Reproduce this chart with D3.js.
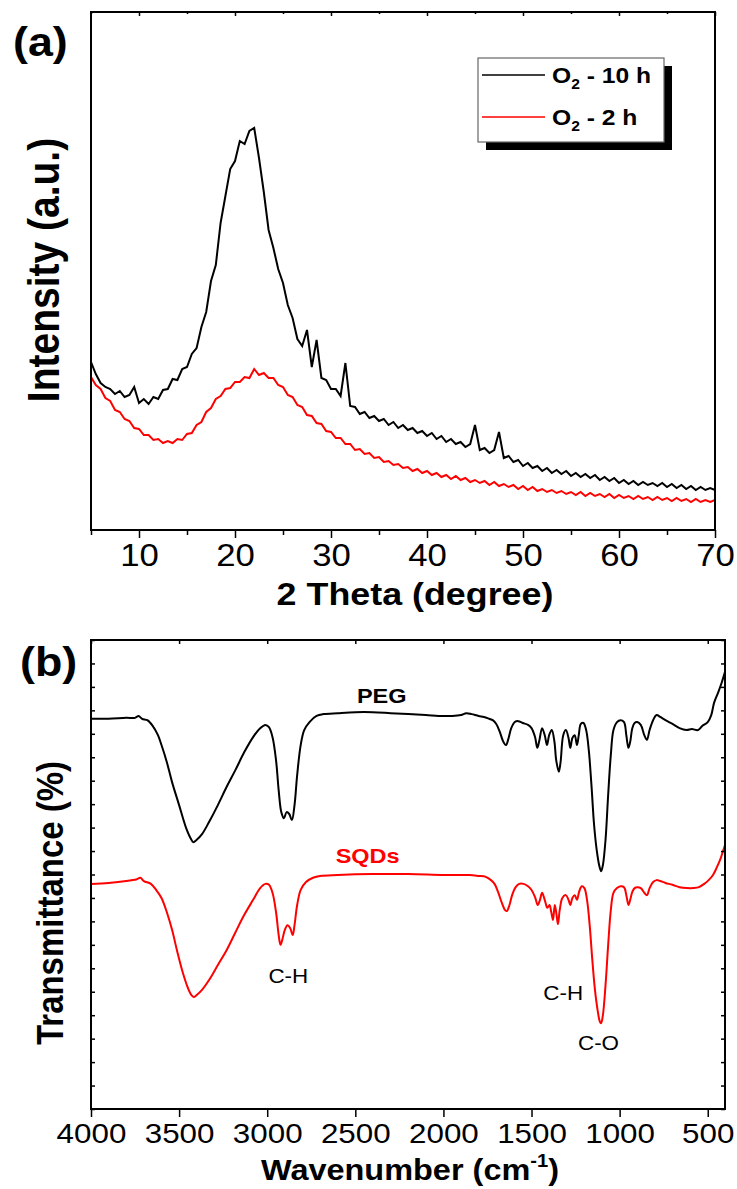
<!DOCTYPE html>
<html><head><meta charset="utf-8">
<script src="https://cdn.jsdelivr.net/npm/d3@7"></script>
<style>body{margin:0;background:#fff} svg{display:block} text{font-family:"Liberation Sans",Arial,Helvetica,sans-serif}</style>
</head><body><svg id="c" width="737" height="1189"></svg>
<script>
// ---------- Panel (a): XRD ----------
const twoTheta = [5,5.5,6,6.5,7,7.5,8,8.5,9,9.5,10,10.5,11,11.5,12,12.5,13,13.5,14,14.5,15,15.5,16,16.5,17,17.5,18,18.5,19,19.5,20,20.5,21,21.5,22,22.5,23,23.5,24,24.5,25,25.5,26,26.5,27,27.5,28,28.5,29,29.5,30,30.5,31,31.5,32,32.5,33,33.5,34,34.5,35,35.5,36,36.5,37,37.5,38,38.5,39,39.5,40,40.5,41,41.5,42,42.5,43,43.5,44,44.5,45,45.5,46,46.5,47,47.5,48,48.5,49,49.5,50,50.5,51,51.5,52,52.5,53,53.5,54,54.5,55,55.5,56,56.5,57,57.5,58,58.5,59,59.5,60,60.5,61,61.5,62,62.5,63,63.5,64,64.5,65,65.5,66,66.5,67,67.5,68,68.5,69,69.5,70];
const intensity10h = [168,156,147,143,141,136,139,133,135,143,
127,131,126,133,131,140,141,151,150,161,
163,176,182,203,218,249,265,307,334,361,
369,389,386,399,402,372,338,300,282,261,
247,225,212,191,184,200,163,190,152,150,
141,141,134,167,124,123,116,118,112,114,
109,111,105,108,102,105,100,102,97,99,
94,97,91,94,88,91,86,88,83,86,
105,80,82,77,80,98,72,74,68,70,
64,67,62,64,59,62,57,60,56,59,
54,57,53,56,52,55,50,53,49,52,
47,50,46,49,45,48,45,47,44,47,
43,46,42,45,41,44,40,43,40,42,
40];
const intensity2h = [153,145,141,132,129,120,118,111,109,102,
101,95,95,90,91,87,89,87,91,90,
96,97,105,108,118,122,131,134,141,142,
148,148,153,152,161,155,157,152,152,145,
143,135,133,125,123,115,114,107,106,99,
98,92,92,86,86,80,81,76,77,72,
73,68,69,65,66,62,63,59,61,57,
59,55,57,53,55,51,54,50,52,48,
50,47,49,45,48,44,46,43,45,41,
44,40,43,39,41,38,40,37,39,36,
38,35,38,34,37,34,36,33,36,32,
35,32,34,31,34,31,33,30,33,30,
32,29,32,29,31,28,31,28,30,28,
30];
const xrdTicks = [10,20,30,40,50,60,70];
const xrdMinorTicks = [5,15,25,35,45,55,65];
const xrdSeries = [
  {name:"10 h", color:"#000000", values:intensity10h},
  {name:"2 h",  color:"#ff0000", values:intensity2h}
];

// ---------- Panel (b): FTIR ----------
const wavenumberPEG = [4000,3900,3800,3750,3730,3710,3680,3650,3620,3600,3570,3540,3500,3460,3430,3420,3400,3370,3330,3280,3230,3180,3130,3080,3040,3010,2990,2970,2950,2935,2920,2905,2890,2875,2860,2845,2830,2810,2790,2760,2720,2680,2600,2500,2400,2300,2200,2100,2000,1950,1900,1870,1840,1800,1770,1740,1720,1700,1680,1660,1645,1630,1615,1595,1575,1550,1520,1500,1480,1467,1455,1440,1425,1412,1400,1385,1370,1360,1345,1335,1320,1305,1290,1280,1268,1255,1242,1232,1220,1205,1190,1175,1160,1145,1130,1115,1105,1095,1080,1065,1050,1035,1015,995,975,962,950,940,928,915,900,880,860,845,830,810,790,770,740,700,660,620,590,555,530,500,480,464,440,420,402];
const transPEG = [83.2,83.2,83.4,83.4,83.8,83.2,82.9,81.7,79.7,77.6,74.0,69.7,64.8,59.9,57.4,56.9,57.4,58.6,61.2,64.8,68.7,72.3,76.1,79.3,81.2,81.9,81.4,79.3,74.4,68.0,63.3,62.0,63.3,62.9,61.6,64.8,71.2,77.6,80.8,82.5,83.8,84.2,84.4,84.6,84.6,84.4,84.2,84.0,83.8,83.8,84.0,84.4,84.2,83.8,83.6,83.2,82.9,82.1,80.4,78.3,77.6,79.1,81.2,82.5,82.7,82.3,81.9,81.2,79.3,77.0,78.7,81.2,79.7,77.6,79.7,80.8,78.3,74.4,71.9,74.0,79.7,80.8,79.1,77.0,79.1,79.7,77.6,79.7,82.1,82.3,80.8,76.5,69.1,60.6,55.2,51.8,50.7,52.0,57.4,67.0,75.5,80.8,82.5,82.9,82.5,79.7,77.0,78.3,81.2,82.3,82.5,81.9,79.7,78.7,80.8,82.9,84.0,83.6,82.9,82.1,81.2,80.8,81.0,80.8,81.7,82.5,84.0,86.6,88.9,91.0,93.2];
const wavenumberSQD = [4000,3900,3800,3740,3720,3700,3660,3630,3600,3570,3540,3510,3480,3450,3430,3415,3400,3370,3330,3280,3230,3180,3130,3080,3040,3010,2990,2970,2950,2935,2925,2915,2900,2885,2870,2855,2845,2830,2810,2780,2740,2700,2600,2400,2200,2000,1900,1850,1800,1760,1730,1710,1690,1670,1650,1640,1625,1610,1590,1570,1545,1520,1500,1480,1465,1452,1440,1425,1410,1398,1388,1378,1368,1358,1350,1340,1325,1305,1290,1280,1268,1255,1242,1230,1215,1200,1185,1170,1155,1140,1125,1112,1105,1095,1080,1065,1050,1035,1015,995,975,962,950,940,928,915,900,880,860,845,830,810,790,770,740,700,660,620,580,550,520,495,470,450,430,415,402];
const transSQD = [48.0,48.2,48.6,49.0,49.3,48.6,48.0,46.7,45.0,42.0,38.2,33.5,29.2,25.8,24.3,23.9,24.3,25.4,27.5,30.7,33.9,37.7,41.4,44.6,47.1,48.0,47.8,46.1,42.0,37.1,35.0,36.0,38.2,39.2,38.6,37.1,39.2,43.5,46.7,48.4,49.3,49.7,49.9,50.1,50.1,49.9,49.9,49.9,49.7,49.5,48.8,48.0,46.3,44.1,42.4,42.2,43.5,45.6,47.3,48.0,48.0,47.5,46.7,45.2,43.5,44.6,46.1,44.6,42.9,43.5,42.0,40.3,43.5,41.4,39.4,42.4,45.0,45.6,44.6,43.5,45.0,45.6,44.6,46.3,47.5,47.1,44.6,39.2,31.8,25.4,21.1,18.6,18.3,20.0,26.4,35.0,42.4,46.1,47.1,47.5,47.3,45.6,43.5,44.6,46.3,47.1,47.3,47.1,46.1,45.6,47.1,48.4,48.8,48.6,48.2,47.8,47.3,47.1,47.1,47.3,48.0,48.8,49.9,51.4,53.1,54.8,56.3];
const ftirTicks = [4000,3500,3000,2500,2000,1500,1000,500];
const transTicks = [0,5,10,15,20,25,30,35,40,45,50,55,60,65,70,75,80,85,90,95,100];
const ftirSeries = [
  {name:"PEG",  color:"#000000", x:wavenumberPEG, y:transPEG},
  {name:"SQDs", color:"#ff0000", x:wavenumberSQD, y:transSQD}
];
const ftirNotes = [
  {text:"PEG",  w:2350, t:86.5, bold:true,  color:"#000"},
  {text:"SQDs", w:2430, t:52.4, bold:true,  color:"#ff0000"},
  {text:"C-H",  w:2880, t:26.8, bold:false, color:"#000"},
  {text:"C-H",  w:1320, t:23.2, bold:false, color:"#000"},
  {text:"C-O",  w:1120, t:12.6, bold:false, color:"#000"}
];

// ---------- drawing ----------
const SX = 1.12;
const svg = d3.select("#c");

function styleAxis(g, fs){
  g.select(".domain").remove();
  g.selectAll(".tick line").attr("stroke","#000").attr("stroke-width",1.5);
  g.selectAll(".tick text").attr("fill","#000").style("font-size",fs+"px").attr("transform",`scale(${SX},1)`);
}

// Panel a
const A = {l:91, r:715, t:12, b:530};
const xA = d3.scaleLinear().domain([5,70]).range([A.l,A.r]);
const yA = d3.scaleLinear().domain([0,518]).range([A.b,A.t]);
const gA = svg.append("g");

const lineA = vals => d3.line().x((d,i)=>xA(twoTheta[i])).y(d=>yA(d))(vals);
gA.selectAll("path.xrd").data(xrdSeries.slice().reverse()).join("path")
  .attr("class","xrd").attr("d",d=>lineA(d.values))
  .attr("fill","none").attr("stroke",d=>d.color).attr("stroke-width",2).attr("stroke-linejoin","miter");

gA.append("g").attr("transform",`translate(0,${A.b})`)
  .call(d3.axisBottom(xA).tickValues(xrdTicks).tickSize(8).tickPadding(6).tickFormat(d3.format("d")))
  .call(g=>styleAxis(g,31));
gA.append("g").attr("transform",`translate(0,${A.b})`)
  .call(d3.axisBottom(xA).tickValues(xrdMinorTicks).tickSize(5).tickFormat(""))
  .call(g=>styleAxis(g,31));
gA.append("g").attr("transform",`translate(0,${A.t})`)
  .call(d3.axisTop(xA).tickValues(xrdTicks).tickSize(-4).tickFormat(""))
  .call(g=>styleAxis(g,31));
gA.append("g").attr("transform",`translate(0,${A.t})`)
  .call(d3.axisTop(xA).tickValues(xrdMinorTicks).tickSize(-2).tickFormat(""))
  .call(g=>styleAxis(g,31));
gA.append("rect").attr("x",A.l).attr("y",A.t).attr("width",A.r-A.l).attr("height",A.b-A.t)
  .attr("fill","none").attr("stroke","#000").attr("stroke-width",2);

// legend
const lg = gA.append("g");
lg.append("rect").attr("x",486).attr("y",66).attr("width",186).attr("height",84).attr("fill","#000");
lg.append("rect").attr("x",478).attr("y",58).attr("width",186).attr("height",84).attr("fill","#fff").attr("stroke","#666").attr("stroke-width",1.2);
xrdSeries.forEach((s,i)=>{
  const y = 75 + i*42;
  lg.append("line").attr("x1",482).attr("x2",545).attr("y1",y).attr("y2",y).attr("stroke",s.color).attr("stroke-width",1.5);
  const t = lg.append("text").attr("transform",`translate(552,${y+8}) scale(${SX},1)`)
    .style("font-size","22px").style("font-weight","bold").attr("fill","#000");
  t.append("tspan").text("O");
  t.append("tspan").text("2").style("font-size","14px").attr("dy","0.45em");
  t.append("tspan").text(" - " + s.name).attr("dy","-0.3em");
});

// titles a
svg.append("text").attr("transform",`translate(13,56) scale(${SX},1)`).style("font-size","40px").style("font-weight","bold").text("(a)");
svg.append("text").attr("transform",`translate(415,605) scale(${SX},1)`).attr("text-anchor","middle")
  .style("font-size","32px").style("font-weight","bold").text("2 Theta (degree)");
svg.append("text").attr("transform",`translate(59,270) scale(${SX},1) rotate(-90)`).attr("text-anchor","middle")
  .style("font-size","39px").style("font-weight","bold").text("Intensity (a.u.)");

// Panel b
const B = {l:91, r:725, t:640, b:1109};
const xB = d3.scaleLinear().domain([4000,402]).range([B.l,B.r]);
const yB = d3.scaleLinear().domain([0,100]).range([B.b,B.t]);
const gB = svg.append("g");
gB.selectAll("path.ftir").data(ftirSeries).join("path")
  .attr("class","ftir")
  .attr("d",s=>d3.line().x((d,i)=>xB(s.x[i])).y(d=>yB(d)).curve(d3.curveCatmullRom.alpha(0.5))(s.y))
  .attr("fill","none").attr("stroke",s=>s.color).attr("stroke-width",2);

gB.append("g").attr("transform",`translate(0,${B.b})`)
  .call(d3.axisBottom(xB).tickValues(ftirTicks).tickSize(8).tickPadding(6).tickFormat(d3.format("d")))
  .call(g=>styleAxis(g,28));
gB.append("g").attr("transform",`translate(0,${B.t})`)
  .call(d3.axisTop(xB).tickValues(ftirTicks).tickSize(-4).tickFormat(""))
  .call(g=>styleAxis(g,28));
gB.append("g").attr("transform",`translate(${B.l},0)`)
  .call(d3.axisLeft(yB).tickValues(transTicks).tickSize(-4).tickFormat(""))
  .call(g=>styleAxis(g,28));
gB.append("g").attr("transform",`translate(${B.r},0)`)
  .call(d3.axisRight(yB).tickValues(transTicks).tickSize(-4).tickFormat(""))
  .call(g=>styleAxis(g,28));
gB.append("rect").attr("x",B.l).attr("y",B.t).attr("width",B.r-B.l).attr("height",B.b-B.t)
  .attr("fill","none").attr("stroke","#000").attr("stroke-width",2);

ftirNotes.forEach(n=>{
  gB.append("text").attr("transform",`translate(${xB(n.w)},${yB(n.t)}) scale(${SX},1)`).attr("text-anchor","middle")
    .style("font-size",n.bold?"21px":"20px").style("font-weight",n.bold?"bold":"normal").attr("fill",n.color).text(n.text);
});

svg.append("text").attr("transform",`translate(20,676) scale(${SX},1)`).style("font-size","40px").style("font-weight","bold").text("(b)");
const xt = svg.append("text").attr("transform",`translate(410,1180) scale(${SX},1)`).attr("text-anchor","middle")
  .style("font-size","29px").style("font-weight","bold");
xt.append("tspan").text("Wavenumber (cm");
xt.append("tspan").text("-1").style("font-size","18px").attr("dy","-0.75em");
xt.append("tspan").text(")").attr("dy","0.47em");
svg.append("text").attr("transform",`translate(63,903) scale(${SX},1) rotate(-90)`).attr("text-anchor","middle")
  .style("font-size","33px").style("font-weight","bold").text("Transmittance (%)");
</script></body></html>
